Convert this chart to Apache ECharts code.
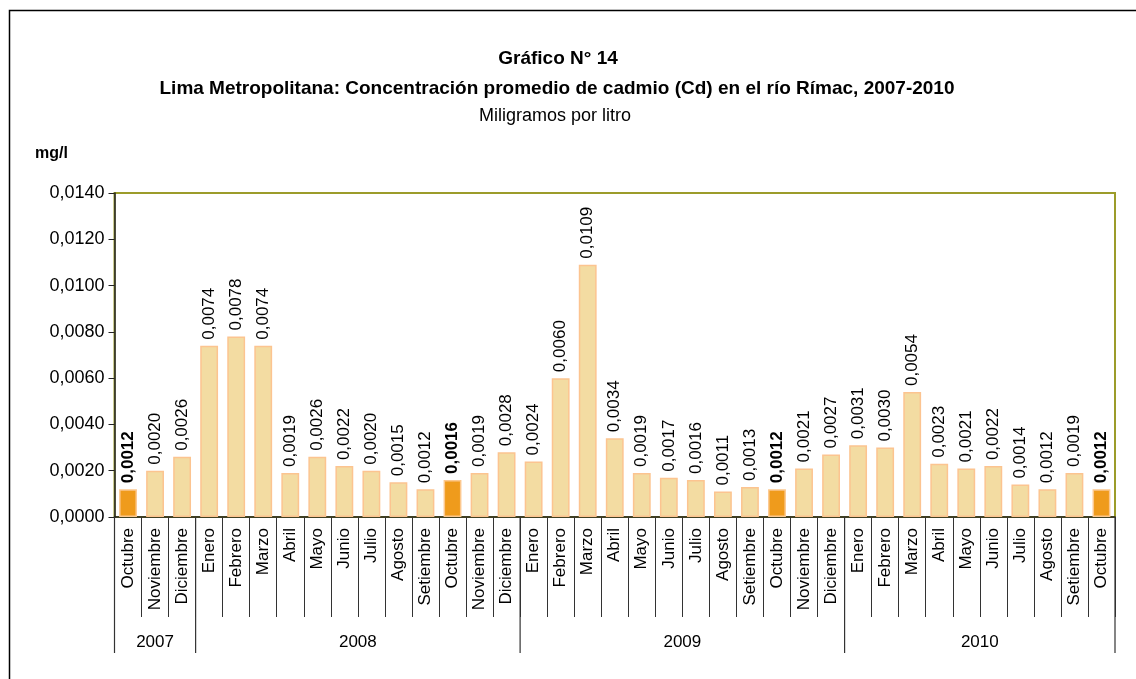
<!DOCTYPE html>
<html><head><meta charset="utf-8">
<script src="https://cdn.jsdelivr.net/npm/echarts@6/dist/echarts.min.js"></script>
<style>html,body{margin:0;padding:0;background:#fff}#c{width:1136px;height:679px}</style>
</head><body><div id="c"></div>
<script>
const months = ['Octubre','Noviembre','Diciembre',
 'Enero','Febrero','Marzo','Abril','Mayo','Junio','Julio','Agosto','Setiembre','Octubre','Noviembre','Diciembre',
 'Enero','Febrero','Marzo','Abril','Mayo','Junio','Julio','Agosto','Setiembre','Octubre','Noviembre','Diciembre',
 'Enero','Febrero','Marzo','Abril','Mayo','Junio','Julio','Agosto','Setiembre','Octubre'];
const values = [0.0012,0.0020,0.0026,
 0.0074,0.0078,0.0074,0.0019,0.0026,0.0022,0.0020,0.0015,0.0012,0.0016,0.0019,0.0028,
 0.0024,0.0060,0.0109,0.0034,0.0019,0.0017,0.0016,0.0011,0.0013,0.0012,0.0021,0.0027,
 0.0031,0.0030,0.0054,0.0023,0.0021,0.0022,0.0014,0.0012,0.0019,0.0012];
const highlighted = [0, 12, 24, 36];
const yearGroups = [[0,2,'2007'],[3,14,'2008'],[15,26,'2009'],[27,36,'2010']];
const yTicks = {min:0, max:0.014, interval:0.002};

const FONT = "'Liberation Sans', Arial, sans-serif";
const fmt = v => v.toFixed(4).replace('.', ',');

const barData = values.map((v,i) => {
  const hi = highlighted.includes(i);
  return {
    value: v,
    itemStyle: hi ? {color:'#ef9b1c', borderColor:'#fcc88e', borderWidth:1.5}
                  : {color:'#f3dca2', borderColor:'#fcc490', borderWidth:1.5},
    label: hi ? {fontWeight:'bold'} : {}
  };
});

const chart = echarts.init(document.getElementById('c'));
chart.setOption({
  animation:false,
  backgroundColor:'#fff',
  title:[
    {text:'Gráfico N° 14', left:553, top:44, textAlign:'center',
     textStyle:{fontFamily:FONT, fontSize:19, fontWeight:'bold', color:'#000'}},
    {text:'Lima Metropolitana: Concentración promedio de cadmio (Cd) en el río Rímac, 2007-2010', left:552, top:74, textAlign:'center',
     textStyle:{fontFamily:FONT, fontSize:19, fontWeight:'bold', color:'#000'}},
    {text:'Miligramos por litro', left:550, top:102, textAlign:'center',
     textStyle:{fontFamily:FONT, fontSize:18, fontWeight:'normal', color:'#000'}},
    {text:'mg/l', left:30, top:141,
     textStyle:{fontFamily:FONT, fontSize:16, fontWeight:'bold', color:'#000'}}
  ],
  graphic:[{type:'rect', shape:{x:9.5, y:10.5, width:2000, height:2000}, style:{fill:'none', stroke:'#000', lineWidth:1.5}, silent:true, z:-1}],
  grid:{left:114.5, right:21, top:193, bottom:162, show:true, borderColor:'#9c9c2a', borderWidth:2, backgroundColor:'transparent'},
  xAxis:{type:'category', data:months,
    axisLine:{lineStyle:{color:'#222', width:1.5}},
    axisTick:{show:true, length:100, interval:0, lineStyle:{color:'#333', width:1}},
    axisLabel:{rotate:90, interval:0, margin:11, fontFamily:FONT, fontSize:17, color:'#000'}},
  yAxis:{type:'value', min:yTicks.min, max:yTicks.max, interval:yTicks.interval,
    axisLine:{show:true, lineStyle:{color:'#222', width:1.5}},
    axisTick:{show:true, length:6, lineStyle:{color:'#222'}},
    splitLine:{show:false},
    axisLabel:{formatter:fmt, fontFamily:FONT, fontSize:18, color:'#000', margin:10}},
  series:[
    {type:'bar', data:barData, barWidth:'66%',
     label:{show:true, position:'top', rotate:90, align:'left', verticalAlign:'middle', distance:6,
       formatter:p => fmt(p.value), fontFamily:FONT, fontSize:17, color:'#000'}},
    {type:'custom', clip:false, silent:true, z:5,
     data:yearGroups.map(g => [g[0], g[1], g[2]]),
     encode:{x:[0,1]},
     renderItem:(params, api) => {
       const s = api.value(0), e = api.value(1);
       const band = api.size([1,0])[0];
       const x0 = api.coord([s, 0])[0] - band/2;
       const x1 = api.coord([e, 0])[0] + band/2;
       const y0 = api.coord([s, 0])[1];
       const children = [
         {type:'line', shape:{x1:x0, y1:y0, x2:x0, y2:y0+136}, style:{stroke:'#333', lineWidth:1.2}},
         {type:'text', style:{text:yearGroups[params.dataIndex][2], x:(x0+x1)/2, y:y0+125, align:'center', verticalAlign:'middle',
           font:'17px ' + FONT, fill:'#000'}}
       ];
       if (params.dataIndex === yearGroups.length-1) {
         children.push({type:'line', shape:{x1:x1, y1:y0, x2:x1, y2:y0+136}, style:{stroke:'#333', lineWidth:1.2}});
       }
       return {type:'group', children};
     }}
  ]
});
</script></body></html>
